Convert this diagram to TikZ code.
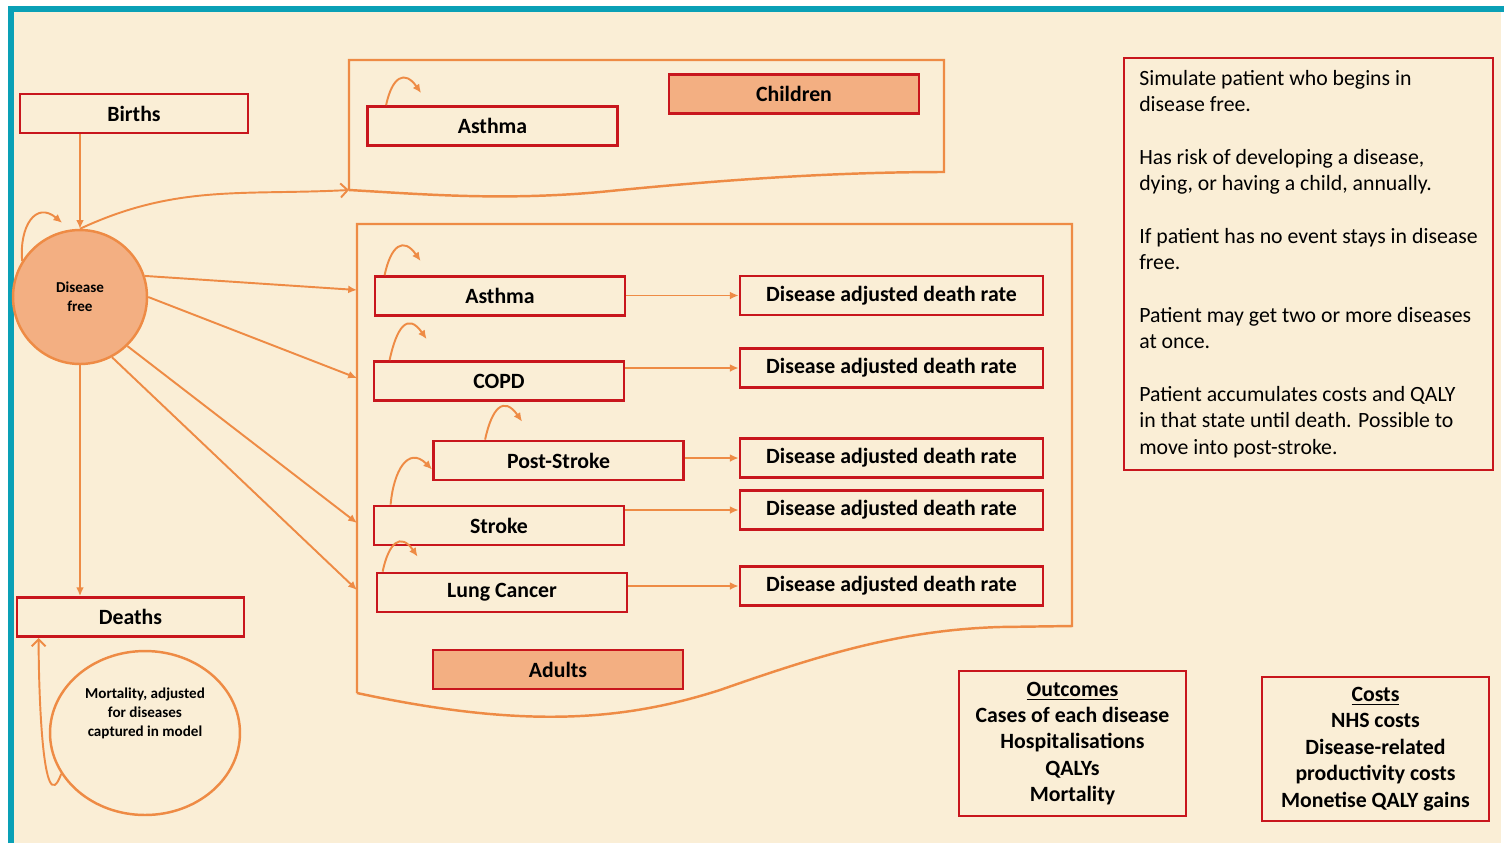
\documentclass[tikz,border=0pt]{standalone}
\usepackage{fontspec}
\setmainfont{Carlito}
\usetikzlibrary{arrows.meta,shapes.geometric}

\definecolor{cream}{HTML}{FAEED6}
\definecolor{frameteal}{HTML}{0AA0B6}
\definecolor{boxred}{HTML}{C8161D}
\definecolor{lineorange}{HTML}{EE8B45}
\definecolor{orangefill}{HTML}{F3AF82}

\begin{document}
\begin{tikzpicture}[x=0.02cm, y=0.02cm,
    box/.style={draw=boxred, line width=1.6pt, inner sep=0pt, minimum width=5cm, minimum height=0.78cm, font=\fontsize{12.4}{15}\selectfont\bfseries},
    deathbox/.style={box, minimum width=6.06cm},
    tagbox/.style={box, fill=orangefill},
    textbox/.style={box, align=center, font=\fontsize{12.4}{15}\selectfont\bfseries},
    link/.style={draw=lineorange, line width=1.1pt, -{Latex[length=5pt,width=4.5pt]}},
    openlink/.style={draw=lineorange, line width=1.1pt, -{Straight Barb[length=4pt,width=8pt]}},
    selfarc/.style={link, looseness=2},
    cohort/.style={draw=lineorange, line width=1.4pt}]
  \useasboundingbox (0,0) rectangle (1504,-843);
  \fill[white] (0,0) rectangle (1504,-843);
  \fill[cream] (11,-9) rectangle (1501,-843);
  \draw[frameteal, line width=3.4pt] (11,-843) -- (11,-9) -- (1504,-9);

  % children and adults groups
  \draw[cohort] (349,-190) -- (349,-60) -- (944,-60) -- (944,-172) .. controls (820,-172) and (700,-182) .. (600,-192) .. controls (500,-201) and (420,-194) .. (349,-190);
  \draw[cohort] (357,-693) -- (357,-224) -- (1072,-224) -- (1072,-626) -- (1000,-627) .. controls (900,-630) and (820,-655) .. (720,-690) .. controls (620,-722) and (520,-728) .. (357,-693);
  \coordinate (cin) at (349,-190);
  \coordinate (ain1) at (357,-290);
  \coordinate (ain2) at (357,-378);
  \coordinate (ain3) at (357,-523);
  \coordinate (ain4) at (357,-590);

  \node[box, minimum width=4.56cm] (births) at (134,-113.5) {Births};
  \node[box, minimum width=4.54cm] (deaths) at (130.5,-617) {Deaths};
  \node[circle, draw=lineorange, line width=1.4pt, fill=orangefill, minimum size=2.68cm, align=center, font=\fontsize{8.6}{10.8}\selectfont\bfseries] (dfree) at (80,-297) {Disease\\free};
  \node[ellipse, draw=lineorange, line width=1.4pt, minimum width=3.8cm, minimum height=3.28cm] (mort) at (145,-733) {};
  \node[align=center, font=\fontsize{8.6}{10.8}\selectfont\bfseries] (morttext) at (145,-713) {Mortality, adjusted\\for diseases\\captured in model};

  \node[box] (casthma) at (492.5,-126) {Asthma};
  \node[tagbox] (children) at (794,-94) {Children};
  \node[box] (asthma) at (500,-296) {Asthma};
  \node[box] (copd) at (499,-381) {COPD};
  \node[box] (post) at (558.5,-460.5) {Post-Stroke};
  \node[box] (stroke) at (499,-525.5) {Stroke};
  \node[box] (lung) at (502,-592.5) {Lung Cancer};
  \node[tagbox] (adults) at (558,-669.5) {Adults};
  \node[deathbox] (dr1) at (891.5,-295.5) {Disease adjusted death rate};
  \node[deathbox] (dr2) at (891.5,-368) {Disease adjusted death rate};
  \node[deathbox] (dr3) at (891.5,-458) {Disease adjusted death rate};
  \node[deathbox] (dr4) at (891.5,-510) {Disease adjusted death rate};
  \node[deathbox] (dr5) at (891.5,-586) {Disease adjusted death rate};

  \node[box, minimum width=7.38cm, minimum height=8.24cm, align=left, font=\fontsize{12.4}{15}\selectfont] (notes) at (1308.5,-264) {Simulate patient who begins in\\disease free.\\[15pt]Has risk of developing a disease,\\dying, or having a child, annually.\\[15pt]If patient has no event stays in disease\\free.\\[15pt]Patient may get two or more diseases\\at once.\\[15pt]Patient accumulates costs and QALY\\in that state until death. Possible to\\move into post-stroke.};
  \node[textbox, minimum width=4.54cm, minimum height=2.9cm] (outcomes) at (1072.5,-743.5) {\underline{Outcomes}\\Cases of each disease\\Hospitalisations\\QALYs\\Mortality};
  \node[textbox, minimum width=4.54cm, minimum height=2.88cm] (costs) at (1375.5,-749) {\underline{Costs}\\NHS costs\\Disease-related\\productivity costs\\Monetise QALY gains};

  \draw[link] (births.south -| dfree) -- (dfree);
  \draw[link] (dfree) -- (dfree |- deaths.north);
  \draw[link] (dfree.148) to[out=95,in=140,looseness=1.6] ++(40,38);
  \draw[openlink] (dfree.north) to[out=25,in=183] (cin);
  \draw[link] (dfree.18) -- (ain1);
  \draw[link] (dfree.0) -- (ain2);
  \draw[link] (dfree.-46) -- (ain3);
  \draw[link] (dfree.-62) -- (ain4);
  \draw[openlink] (mort.206) to[out=250,in=-90] ([xshift=0.46cm]deaths.south west);

  \draw[selfarc] ([xshift=0.4cm]casthma.north west) to[out=78,in=125] ++(35,12);
  \draw[selfarc] ([xshift=0.22cm]asthma.north west) to[out=78,in=125] ++(36,14);
  \draw[selfarc] ([xshift=0.34cm]copd.north west) to[out=78,in=125] ++(37,21);
  \draw[selfarc] ([xshift=1.06cm]post.north west) to[out=78,in=125] ++(37,18);
  \draw[selfarc, looseness=1.6] ([xshift=0.36cm]stroke.north west) to[out=85,in=135] ([yshift=-0.18cm]post.west);
  \draw[selfarc] ([xshift=0.14cm]lung.north west) to[out=78,in=125] ++(35,15);

  \draw[link] (asthma.east |- dr1.west) -- (dr1.west);
  \draw[link] (copd.east |- dr2.west) -- (dr2.west);
  \draw[link] (post.east |- dr3.west) -- (dr3.west);
  \draw[link] (stroke.east |- dr4.west) -- (dr4.west);
  \draw[link] (lung.east |- dr5.west) -- (dr5.west);
\end{tikzpicture}
\end{document}
